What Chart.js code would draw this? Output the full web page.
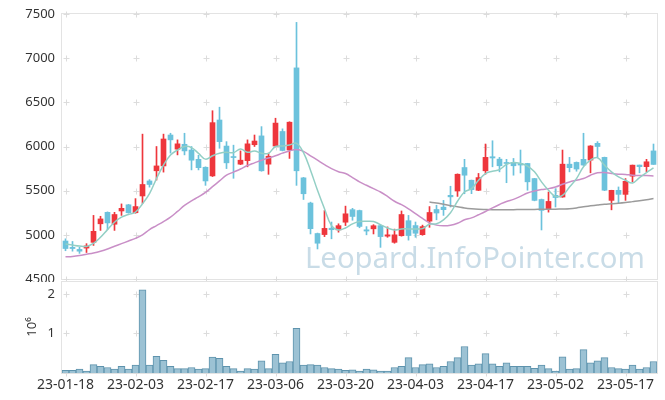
<!DOCTYPE html>
<html>
<head>
<meta charset="utf-8">
<script src="https://cdn.jsdelivr.net/npm/chart.js@4.4.0/dist/chart.umd.min.js"></script>
<style>
  html, body { margin: 0; padding: 0; background: #fff; }
  #wrap { position: relative; width: 665px; height: 400px; }
  #priceBox { position: absolute; left: 0; top: 0; width: 665px; height: 282px; }
  #volBox { position: absolute; left: 0; top: 280px; width: 665px; height: 120px; }
</style>
</head>
<body>
<div id="wrap">
  <div id="priceBox"><canvas id="priceChart" width="665" height="282"></canvas></div>
  <div id="volBox"><canvas id="volChart" width="665" height="120"></canvas></div>
</div>
<script>
// Trading days
const dates = [
  '23-01-18','23-01-19','23-01-20','23-01-25','23-01-26','23-01-27','23-01-30','23-01-31','23-02-01','23-02-02',
  '23-02-03','23-02-06','23-02-07','23-02-08','23-02-09','23-02-10','23-02-13','23-02-14','23-02-15','23-02-16',
  '23-02-17','23-02-20','23-02-21','23-02-22','23-02-23','23-02-24','23-02-27','23-02-28','23-03-02','23-03-03',
  '23-03-06','23-03-07','23-03-08','23-03-09','23-03-10','23-03-13','23-03-14','23-03-15','23-03-16','23-03-17',
  '23-03-20','23-03-21','23-03-22','23-03-23','23-03-24','23-03-27','23-03-28','23-03-29','23-03-30','23-03-31',
  '23-04-03','23-04-04','23-04-05','23-04-06','23-04-07','23-04-10','23-04-11','23-04-12','23-04-13','23-04-14',
  '23-04-17','23-04-18','23-04-19','23-04-20','23-04-21','23-04-24','23-04-25','23-04-26','23-04-27','23-04-28',
  '23-05-02','23-05-03','23-05-04','23-05-08','23-05-09','23-05-10','23-05-11','23-05-12','23-05-15','23-05-16',
  '23-05-17','23-05-18','23-05-19','23-05-22','23-05-23'
];

const openP = [
  4930,4858,4835,4850,4915,5125,5255,5120,5270,5340,
  5250,5440,5610,5725,5780,6130,5970,6025,5960,5855,
  5765,5667,6300,6005,5885,5800,5840,6020,6120,5800,
  6005,6170,5960,6890,5645,5360,5015,5003,5075,5056,
  5143,5285,5275,5057,5068,5104,4985,4915,4990,5160,
  5105,5002,5155,5287,5313,5447,5496,5762,5618,5504,
  5725,5884,5857,5815,5820,5808,5808,5637,5400,5295,
  5447,5428,5800,5820,5855,5846,6036,5877,5390,5504,
  5458,5664,5790,5772,5950
];
const highP = [
  4955,4925,4860,4900,5220,5210,5260,5255,5350,5345,
  5410,6140,5625,6000,6140,6150,6075,6150,6000,5900,
  5770,6405,6445,6055,6015,5950,6075,6130,6225,5925,
  6320,6200,6280,7405,5650,5370,5020,5275,5145,5125,
  5325,5300,5280,5093,5115,5110,5090,5065,5270,5220,
  5145,5110,5320,5335,5390,5550,5690,5855,5620,5695,
  6028,6065,5877,5855,5865,5960,5810,5640,5405,5485,
  5523,5960,5877,5825,6150,6010,6055,5880,5505,5542,
  5637,5790,5790,5855,6028
];
const lowP = [
  4820,4815,4790,4800,4880,5050,5060,5050,5220,5245,
  5245,5355,5540,5620,5710,5925,5905,5905,5735,5735,
  5560,5660,5980,5750,5640,5795,5770,6000,5720,5685,
  6000,5950,5865,5560,5400,5010,4840,4980,4955,5030,
  5105,5165,5080,5000,5010,4858,4972,4905,4985,4940,
  4972,4995,5085,5170,5220,5315,5435,5465,5466,5500,
  5686,5770,5713,5590,5675,5700,5505,5385,5055,5257,
  5315,5425,5713,5720,5785,5702,5877,5500,5283,5360,
  5390,5600,5702,5713,5797
];
const closeP = [
  4845,4845,4815,4875,5040,5180,5135,5230,5300,5250,
  5320,5570,5570,5780,6085,6075,6030,5950,5845,5760,
  5610,6270,6055,5815,5875,5845,6030,6062,5725,5890,
  6265,5955,6275,5725,5465,5070,4905,5073,5058,5104,
  5238,5208,5095,5043,5103,4980,5000,5000,5230,4992,
  5018,5093,5253,5247,5285,5430,5686,5675,5512,5648,
  5877,5870,5782,5808,5782,5790,5600,5390,5277,5378,
  5422,5800,5760,5745,5790,6006,6000,5505,5504,5458,
  5606,5789,5772,5827,5797
];

// Volume (shares)
const volume = [
  70000,70000,100000,50000,210000,170000,140000,100000,170000,100000,
  200000,2100000,200000,420000,320000,170000,110000,110000,140000,100000,
  110000,400000,370000,170000,110000,50000,110000,100000,310000,110000,
  470000,260000,290000,1130000,200000,210000,200000,140000,110000,100000,
  70000,80000,50000,100000,80000,50000,50000,140000,170000,390000,
  140000,210000,230000,140000,170000,290000,390000,670000,200000,230000,
  490000,230000,170000,260000,170000,170000,170000,120000,200000,110000,
  50000,410000,100000,110000,590000,260000,310000,390000,140000,110000,
  100000,200000,100000,140000,290000
];

// Moving averages
const ma5 = [
  4896,4884,4873,4869,4903,4972,5059,5143,5200,5230,
  5257,5352,5466,5637,5789,5903,5960,6000,5987,5923,
  5857,5895,5923,5934,5930,5972,5934,5949,5923,5923,
  6000,6006,6017,6036,5930,5732,5504,5295,5104,5055,
  5078,5124,5150,5154,5150,5116,5078,5055,5067,5067,
  5067,5070,5120,5125,5170,5250,5380,5485,5523,5618,
  5694,5720,5739,5797,5820,5808,5778,5713,5599,5504,
  5435,5447,5542,5637,5770,5846,5873,5789,5713,5656,
  5618,5587,5648,5705,5758
];
const ma20 = [
  4751,4755,4765,4780,4795,4815,4840,4870,4900,4930,
  4960,5000,5060,5105,5150,5200,5265,5333,5385,5430,
  5480,5545,5610,5675,5710,5745,5785,5815,5845,5870,
  5895,5925,5950,5965,5945,5895,5845,5795,5750,5715,
  5694,5648,5599,5561,5523,5485,5435,5380,5341,5295,
  5240,5185,5135,5110,5102,5108,5131,5170,5192,5227,
  5264,5306,5344,5378,5401,5435,5473,5496,5512,5523,
  5542,5572,5599,5618,5637,5675,5702,5705,5694,5686,
  5683,5675,5671,5671,5667
];
const ma60 = [
  null,null,null,null,null,null,null,null,null,null,
  null,null,null,null,null,null,null,null,null,null,
  null,null,null,null,null,null,null,null,null,null,
  null,null,null,null,null,null,null,null,null,null,
  null,null,null,null,null,null,null,null,null,null,
  null,null,5371,5360,5345,5330,5318,5305,5296,5290,
  5287,5285,5285,5285,5285,5286,5287,5288,5289,5290,
  5291,5293,5296,5305,5318,5328,5338,5347,5352,5358,
  5366,5376,5386,5398,5412
];

const priceTicks = [4500, 5000, 5500, 6000, 6500, 7000, 7500];
const volTicks = [0, 1000000, 2000000];

const UP = '#ee363c';
const DOWN = '#6cc2dc';
const FONT = '"Noto Sans", "Open Sans", sans-serif';
const candleColors = closeP.map((c, i) => c >= openP[i] ? UP : DOWN);

// light frame and "+" marks where grid lines would cross
const frameAndCrosses = {
    id: 'frameAndCrosses',
    beforeDatasetsDraw(chart) {
        const { ctx, chartArea: a, scales } = chart;
        ctx.save();
        ctx.strokeStyle = '#e3e3e3';
        ctx.lineWidth = 1;
        ctx.strokeRect(a.left - 0.5, a.top - 0.5, a.width + 1, a.height + 1);
        ctx.strokeStyle = '#dcdcdc';
        const xs = [];
        for (let i = 0; i < dates.length; i += 10) xs.push(Math.round(scales.x.getPixelForValue(i)) + 0.5);
        const ys = scales.y.ticks.map(t => Math.round(scales.y.getPixelForValue(t.value)) + 0.5);
        ctx.beginPath();
        xs.forEach(x => ys.forEach(y => {
            ctx.moveTo(x - 3, y); ctx.lineTo(x + 3, y);
            ctx.moveTo(x, y - 3); ctx.lineTo(x, y + 3);
        }));
        ctx.stroke();
        ctx.restore();
    }
};

const watermark = {
    id: 'watermark',
    beforeDatasetsDraw(chart) {
        const { ctx } = chart;
        const text = 'Leopard.InfoPointer.com';
        ctx.save();
        let size = 30;
        ctx.font = size + 'px ' + FONT;
        size = size * 340 / ctx.measureText(text).width;
        ctx.font = size + 'px ' + FONT;
        ctx.fillStyle = '#c9dce7';
        ctx.textAlign = 'left';
        ctx.textBaseline = 'alphabetic';
        ctx.fillText(text, 305, 268);
        ctx.restore();
    }
};

const volTitle = {
    id: 'volTitle',
    afterDraw(chart) {
        const { ctx } = chart;
        ctx.save();
        ctx.translate(32, 47);
        ctx.rotate(-Math.PI / 2);
        ctx.fillStyle = '#333';
        ctx.font = '13px ' + FONT;
        ctx.textAlign = 'center';
        ctx.textBaseline = 'middle';
        ctx.fillText('10⁶', 0, 0);
        ctx.restore();
    }
};

// keep the y axis at a fixed width and stop it from pushing the plot in
const fixY = s => {
    s.width = 62;
    s.paddingTop = 0;
    s.paddingBottom = 0;
};

const lineDs = (data, color) => ({
    type: 'line',
    data: data,
    borderColor: color,
    borderWidth: 1.5,
    pointRadius: 0,
    tension: 0.4,
    spanGaps: false,
    order: 0
});

new Chart(document.getElementById('priceChart'), {
    type: 'bar',
    data: {
        labels: dates,
        datasets: [
            lineDs(ma5, '#93cfc5'),
            lineDs(ma20, '#c98fc7'),
            lineDs(ma60, '#9b9b9b'),
            {
                data: lowP.map((l, i) => [l, highP[i]]),
                backgroundColor: candleColors,
                barThickness: 1,
                grouped: false,
                order: 2
            },
            {
                data: openP.map((o, i) => [o, closeP[i]]),
                backgroundColor: candleColors,
                barThickness: 5,
                minBarLength: 1,
                grouped: false,
                order: 1
            }
        ]
    },
    options: {
        responsive: false,
        animation: false,
        layout: { padding: { top: 14, right: 8, bottom: 3, left: 0 } },
        plugins: { legend: { display: false }, tooltip: { enabled: false } },
        scales: {
            x: { display: false, offset: true },
            y: {
                min: 4500,
                max: 7500,
                afterBuildTicks: s => { s.ticks = priceTicks.map(v => ({ value: v })); },
                afterFit: fixY,
                grid: { display: false, drawTicks: false },
                border: { display: false },
                ticks: {
                    color: '#333',
                    padding: 7,
                    font: { size: 13, family: FONT },
                    callback: v => String(v)
                }
            }
        }
    },
    plugins: [frameAndCrosses, watermark]
});

new Chart(document.getElementById('volChart'), {
    type: 'bar',
    data: {
        labels: dates,
        datasets: [{
            data: volume,
            backgroundColor: '#9cc2d4',
            borderColor: '#5e93ad',
            borderWidth: 1,
            barPercentage: 1,
            categoryPercentage: 1
        }]
    },
    options: {
        responsive: false,
        animation: false,
        layout: { padding: { top: 2, right: 8, bottom: 0, left: 0 } },
        plugins: { legend: { display: false }, tooltip: { enabled: false } },
        scales: {
            x: {
                offset: true,
                afterFit: s => { s.height = 27; },
                grid: { display: false, drawTicks: false },
                border: { display: false },
                ticks: {
                    autoSkip: false,
                    maxRotation: 0,
                    padding: 4,
                    color: '#333',
                    font: { size: 14, family: FONT },
                    callback: (v, i) => i % 10 === 0 ? dates[i] : ''
                }
            },
            y: {
                min: 0,
                max: 2300000,
                afterBuildTicks: s => { s.ticks = volTicks.map(v => ({ value: v })); },
                afterFit: fixY,
                grid: { display: false, drawTicks: false },
                border: { display: false },
                ticks: {
                    color: '#333',
                    padding: 7,
                    font: { size: 13, family: FONT },
                    callback: v => v === 0 ? '' : String(v / 1000000)
                }
            }
        }
    },
    plugins: [frameAndCrosses, volTitle]
});
</script>
</body>
</html>
